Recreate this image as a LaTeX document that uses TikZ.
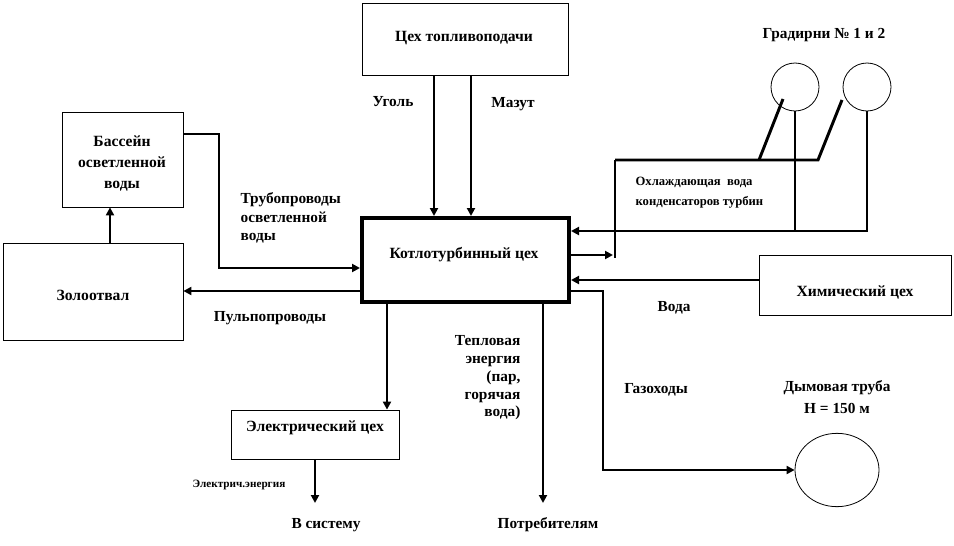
\documentclass[tikz,border=0pt]{standalone}
\usepackage{fontspec}
\setmainfont{Liberation Serif}[BoldFont={Liberation Serif Bold}]
\usetikzlibrary{arrows.meta,fit,calc,shapes.geometric}
\begin{document}
\begin{tikzpicture}[x=0.75pt,y=-0.75pt,
  box/.style={draw, line width=0.6pt, inner sep=0pt},
  mainbox/.style={draw, line width=3pt, inner sep=0pt},
  btxt/.style={font=\bfseries\fontsize{11.7}{15.75}\selectfont, align=center, inner sep=1pt},
  pipe/.style={line width=2.2pt},
  arr/.style={pipe, -{Triangle[length=6pt,width=6pt]}},
  lbl/.style={font=\bfseries\fontsize{11.5}{13.9}\selectfont, align=center, inner sep=1pt},
  slbl/.style={font=\bfseries\fontsize{9.5}{15}\selectfont, align=left, inner sep=1pt},
  tlbl/.style={font=\bfseries\fontsize{8.4}{9}\selectfont, inner sep=1pt},
]
\useasboundingbox (0,0) rectangle (954,546);

% boxes
\node[box, fit={(362,3) (568,75)}] (fuel) {};
\node[mainbox, fit={(362,218) (569,302)}] (main) {};
\node[box, fit={(62,112) (183,207)}] (pool) {};
\node[box, fit={(3,243) (183,340)}] (ash) {};
\node[box, fit={(759,255) (951,315)}] (chem) {};
\node[box, fit={(231,410) (399,459)}] (elec) {};
\node[draw, circle, line width=0.6pt, minimum size=36pt, inner sep=0pt] (g1) at (795,87) {};
\node[draw, circle, line width=0.6pt, minimum size=36pt, inner sep=0pt] (g2) at (867,87) {};
\node[draw, ellipse, line width=0.6pt, minimum width=63pt, minimum height=55pt, inner sep=0pt] (stack) at (837,470) {};

% box texts
\node[btxt] (fuelt) at (464,38) {Цех топливоподачи};
\node[btxt] (maint) at (464,255) {Котлотурбинный цех};
\node[btxt] (poolt) at (122,163) {Бассейн\\осветленной\\воды};
\node[btxt] (asht) at (93,295) {Золоотвал};
\node[btxt] (chemt) at (855,292) {Химический цех};
\node[btxt] (elect) at (315,428) {Электрический цех};

% labels
\node[lbl] (coal) at (393,102) {Уголь};
\node[lbl] (maz) at (513,104) {Мазут};
\node[lbl] (grad) at (824,35) {Градирни № 1 и 2};
\node[slbl, anchor=west] (cool) at (634,193) {Охлаждающая\ \ вода\\конденсаторов турбин};
\node[lbl, align=left, anchor=west] (tube) at (239,218) {Трубопроводы\\осветленной\\воды};
\node[lbl] (pulp) at (270,318) {Пульпопроводы};
\node[lbl] (water) at (674,308) {Вода};
\node[lbl] (gas) at (656,390) {Газоходы};
\node[lbl, font=\bfseries\fontsize{11.5}{16.5}\selectfont] (stacklbl) at (837,397) {Дымовая труба\\Н = 150 м};
\node[lbl, align=right, anchor=east, font=\bfseries\fontsize{11.5}{13.3}\selectfont] (heat) at (522,378) {Тепловая\\энергия\\(пар,\\горячая\\вода)};
\node[tlbl] (eltxt) at (239,485) {Электрич.энергия};
\node[lbl] (sys) at (326,525) {В систему};
\node[lbl] (cons) at (548,525) {Потребителям};

% helper coordinates
\coordinate (cX) at (434,0);
\coordinate (mX) at (471,0);
\coordinate (k1) at (219,134);
\coordinate (k2) at (219,268);
\coordinate (p1) at (0,291);
\coordinate (px) at (110,0);
\coordinate (ex) at (387,0);
\coordinate (ox) at (315,0);
\coordinate (sysend) at (315,503);
\coordinate (hx) at (543,0);
\coordinate (heatend) at (543,503);
\coordinate (cA) at (615,160);
\coordinate (cB) at (818,160);
\coordinate (cC) at (842,100);
\coordinate (cD) at (759,160);
\coordinate (cE) at (783,99);
\coordinate (cF) at (615,258);
\coordinate (cG) at (613,255);
\coordinate (cH) at (867,231);
\coordinate (w) at (0,280);
\coordinate (gA) at (603,291);
\coordinate (gB) at (603,470);

% connectors
\draw[arr] (fuel.south -| cX) -- (main.north -| cX);
\draw[arr] (fuel.south -| mX) -- (main.north -| mX);
\draw[arr] (pool.east |- k1) -- (k1) -- (k2) -- (main.west |- k2);
\draw[arr] (main.west |- p1) -- (ash.east |- p1);
\draw[arr] (ash.north -| px) -- (pool.south -| px);
\draw[arr] (main.south -| ex) -- (elec.north -| ex);
\draw[arr] (elec.south -| ox) -- (sysend);
\draw[arr] (main.south -| hx) -- (heatend);
\draw[pipe] (cA) -- (cB) -- (cC);
\draw[pipe] (cD) -- (cE);
\draw[pipe] (cA) -- (cF);
\draw[arr] (main.east |- cG) -- (cG);
\draw[pipe] (g1.south) -- (g1.south |- cH);
\draw[arr] (g2.south) -- (cH) -- (main.east |- cH);
\draw[arr] (chem.west |- w) -- (main.east |- w);
\draw[arr] (main.east |- gA) -- (gA) -- (gB) -- (stack.west);
\end{tikzpicture}
\end{document}
